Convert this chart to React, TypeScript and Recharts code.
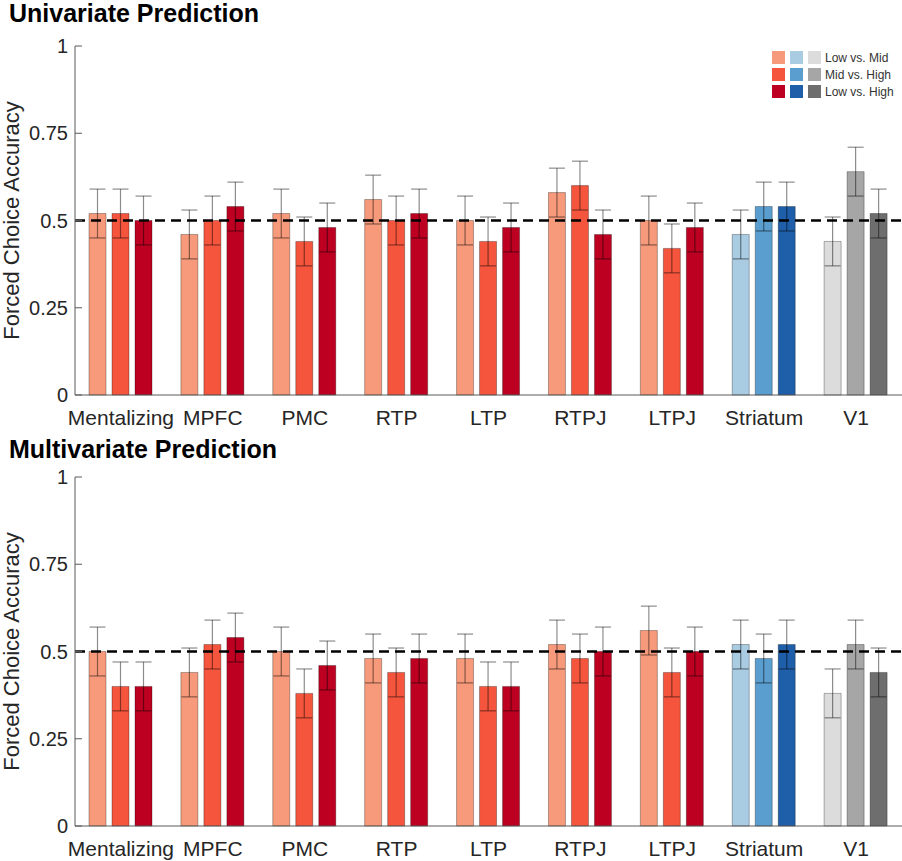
import React from 'react';
import { BarChart, Bar, Cell, XAxis, YAxis, ErrorBar, ReferenceLine } from 'recharts';

const regions = ['Mentalizing', 'MPFC', 'PMC', 'RTP', 'LTP', 'RTPJ', 'LTPJ', 'Striatum', 'V1'];
const regionKind = ['red', 'red', 'red', 'red', 'red', 'red', 'red', 'blue', 'gray'];

// univariate forced choice accuracy
const uniLowMid = [0.52, 0.46, 0.52, 0.56, 0.5, 0.58, 0.5, 0.46, 0.44];
const uniMidHigh = [0.52, 0.5, 0.44, 0.5, 0.44, 0.6, 0.42, 0.54, 0.64];
const uniLowHigh = [0.5, 0.54, 0.48, 0.52, 0.48, 0.46, 0.48, 0.54, 0.52];
const uniErr = [0.07, 0.07, 0.07, 0.07, 0.07, 0.07, 0.07, 0.07, 0.07];

// multivariate forced choice accuracy
const multiLowMid = [0.5, 0.44, 0.5, 0.48, 0.48, 0.52, 0.56, 0.52, 0.38];
const multiMidHigh = [0.4, 0.52, 0.38, 0.44, 0.4, 0.48, 0.44, 0.48, 0.52];
const multiLowHigh = [0.4, 0.54, 0.46, 0.48, 0.4, 0.5, 0.5, 0.52, 0.44];
const multiErr = [0.07, 0.07, 0.07, 0.07, 0.07, 0.07, 0.07, 0.07, 0.07];

const yTicks = [0, 0.25, 0.5, 0.75, 1];
const comparisons = ['Low vs. Mid', 'Mid vs. High', 'Low vs. High'];

const PALETTE: Record<string, string[]> = {
  red: ['#F79A7B', '#F4553C', '#BD0021'],
  blue: ['#A9CCE3', '#5A9ED0', '#1F5EA8'],
  gray: ['#DCDCDC', '#A6A6A6', '#6E6E6E'],
};

const FONT = '"Liberation Sans", Arial, Helvetica, sans-serif';
const AXIS = '#5a5a5a';
const TEXT = '#262626';
const SERIES = ['lm', 'mh', 'lh'];

const buildRows = (a: number[], b: number[], c: number[], err: number[]) =>
  regions.map((region, i) => ({
    region,
    lm: a[i],
    mh: b[i],
    lh: c[i],
    lmErr: err[i],
    mhErr: err[i],
    lhErr: err[i],
  }));

const uniRows = buildRows(uniLowMid, uniMidHigh, uniLowHigh, uniErr);
const multiRows = buildRows(multiLowMid, multiMidHigh, multiLowHigh, multiErr);

// y ticks point inward, labels right-aligned left of the axis
const YTick = (props: any) => {
  const { x, y, payload } = props;
  return (
    <g>
      <line x1={x + 7} x2={x + 14} y1={y} y2={y} stroke={AXIS} strokeWidth={1} />
      <text x={x} y={y} dy="0.35em" textAnchor="end" fontSize={20} fill={TEXT} fontFamily={FONT}>
        {String(payload.value)}
      </text>
    </g>
  );
};

const XTick = (props: any) => {
  const { x, y, payload } = props;
  return (
    <text x={x} y={y} dy="0.71em" textAnchor="middle" fontSize={21} fill={TEXT} fontFamily={FONT}>
      {payload.value}
    </text>
  );
};

const Panel = ({ rows, top, title }: { rows: any[]; top: number; title: string }) => (
  <div style={{ position: 'absolute', left: 0, top }}>
    <BarChart
      width={902}
      height={430}
      data={rows}
      margin={{ top: 46, right: 0, bottom: 0, left: 0 }}
      barGap={6}
    >
      <XAxis
        dataKey="region"
        interval={0}
        height={35}
        tickLine={false}
        tickSize={0}
        tickMargin={15}
        axisLine={{ stroke: AXIS }}
        tick={<XTick />}
      />
      <YAxis
        type="number"
        domain={[0, 1]}
        ticks={yTicks}
        width={75}
        tickLine={false}
        tickSize={0}
        tickMargin={7}
        axisLine={{ stroke: AXIS }}
        tick={<YTick />}
      />
      {SERIES.map((key, s) => (
        <Bar
          key={key}
          dataKey={key}
          barSize={17}
          isAnimationActive={false}
          stroke="#000"
          strokeOpacity={0.3}
          strokeWidth={1}
        >
          {rows.map((_, i) => (
            <Cell key={`c-${i}`} fill={PALETTE[regionKind[i]][s]} />
          ))}
          <ErrorBar
            dataKey={`${key}Err`}
            width={8}
            stroke="#000"
            strokeOpacity={0.45}
            strokeWidth={1.2}
          />
        </Bar>
      ))}
      <ReferenceLine y={0.5} stroke="#000" strokeWidth={2.5} strokeDasharray="10 6" />
      <text
        x={18.5}
        y={220.5}
        transform="rotate(-90, 18.5, 220.5)"
        textAnchor="middle"
        fontSize={22}
        fill={TEXT}
        fontFamily={FONT}
      >
        Forced Choice Accuracy
      </text>
      <text x={9} y={top === 0 ? 22 : 27} fontSize={25} fontWeight="bold" fill="#000" fontFamily={FONT}>
        {title}
      </text>
    </BarChart>
  </div>
);

const LegendBlock = () => (
  <div style={{ position: 'absolute', left: 772, top: 49, fontFamily: FONT }}>
    {comparisons.map((label, s) => (
      <div key={label} style={{ display: 'flex', alignItems: 'center', height: 17 }}>
        {['red', 'blue', 'gray'].map((kind) => (
          <div
            key={kind}
            style={{ width: 13, height: 13, marginRight: 5, background: PALETTE[kind][s] }}
          />
        ))}
        <span style={{ fontSize: 12, color: '#333', marginLeft: -1 }}>{label}</span>
      </div>
    ))}
  </div>
);

export default function App() {
  return (
    <div style={{ position: 'absolute', left: 0, top: 0, width: 902, height: 861, background: '#fff' }}>
      <Panel rows={uniRows} top={0} title="Univariate Prediction" />
      <Panel rows={multiRows} top={431} title="Multivariate Prediction" />
      <LegendBlock />
    </div>
  );
}
